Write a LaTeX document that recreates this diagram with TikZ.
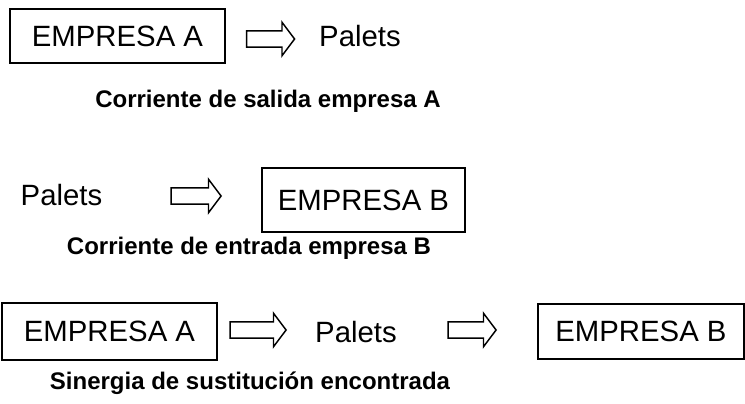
\documentclass[tikz,border=0pt]{standalone}
\usepackage{fontspec}
\setmainfont{Liberation Sans}
\usetikzlibrary{shapes.arrows}

\tikzset{
  caja/.style={draw,line width=0.9pt,inner sep=0pt,font=\fontsize{22}{26}\selectfont},
  flecha/.style={draw,line width=1.1pt,single arrow,inner sep=5.6pt,
    single arrow head extend=6.4pt,single arrow tip angle=106,anchor=center},
  texto/.style={inner sep=0pt,font=\fontsize{22}{26}\selectfont},
  rotulo/.style={inner sep=0pt,font=\fontsize{18}{22}\selectfont\bfseries}
}

\begin{document}
\begin{tikzpicture}[x=0.75pt,y=-0.75pt]
\useasboundingbox (0,0) rectangle (745,403);
% salida
\node[caja,minimum width=161.25pt,minimum height=40.5pt] (empA1) at (117.5,36) {EMPRESA A};
\node[flecha,minimum height=36pt] (fl1) at (267.5,39) {};
\node[texto] (pal1) at (360,36) {Palets};
\node[rotulo] (cap1) at (268,101) {Corriente de salida empresa A};
% entrada
\node[texto] (pal2) at (61.5,195) {Palets};
\node[flecha,minimum height=37.5pt] (fl2) at (193,196) {};
\node[caja,minimum width=152.25pt,minimum height=48pt] (empB2) at (363.5,200) {EMPRESA B};
\node[rotulo] (cap2) at (249,248) {Corriente de entrada empresa B};
% sinergia
\node[caja,minimum width=161.25pt,minimum height=42.75pt] (empA3) at (109.5,331.5) {EMPRESA A};
\node[flecha,minimum height=42pt] (fl3) at (255,330) {};
\node[texto] (pal3) at (356,332) {Palets};
\node[flecha,minimum height=36pt] (fl4) at (469,330) {};
\node[caja,minimum width=154.5pt,minimum height=41.25pt] (empB3) at (641,331.5) {EMPRESA B};
\node[rotulo] (cap3) at (250,383) {Sinergia de sustitución encontrada};
\end{tikzpicture}
\end{document}
